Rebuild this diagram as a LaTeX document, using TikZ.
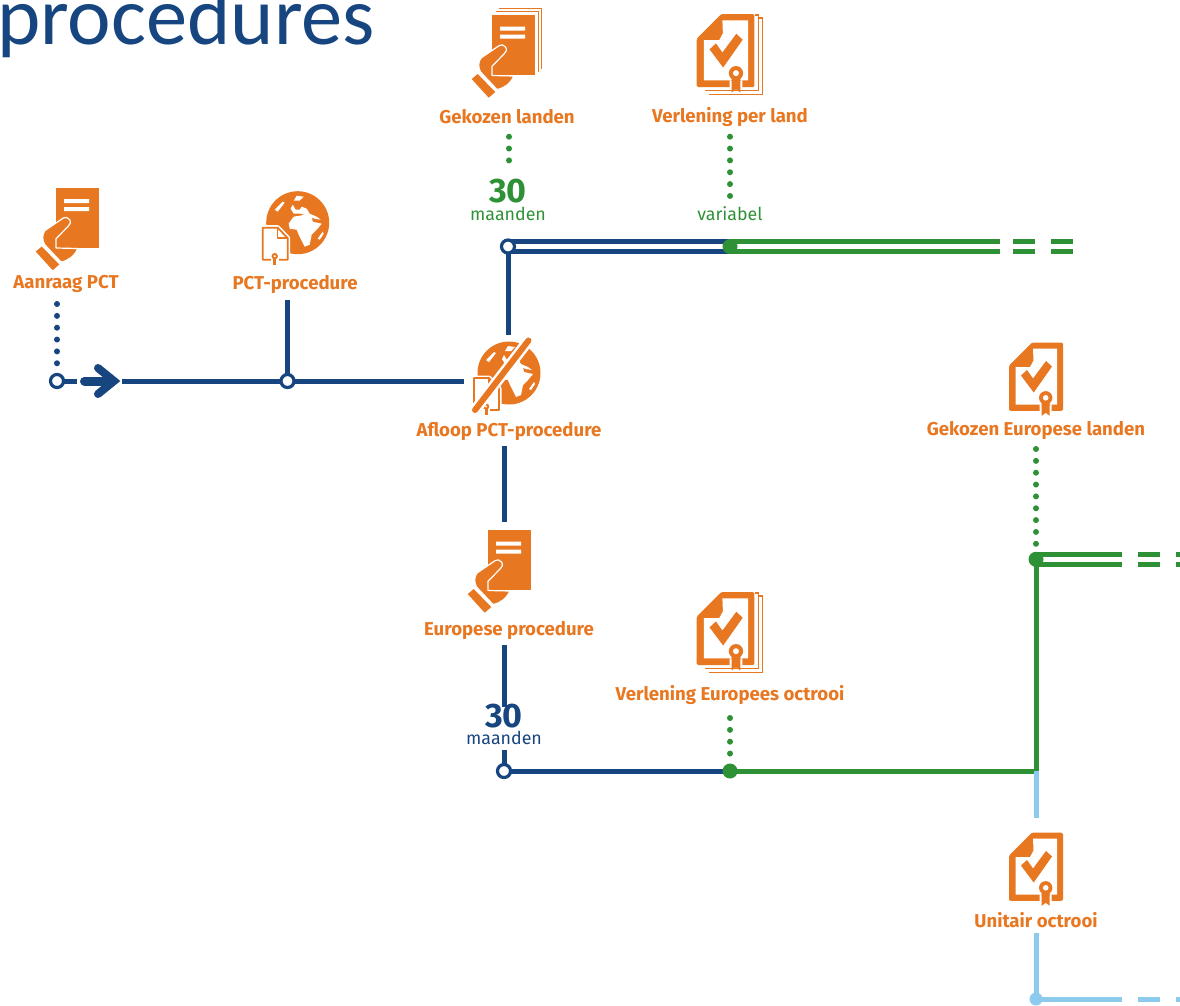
\documentclass[tikz,border=0pt]{standalone}
\usepackage{fontspec}
\setmainfont{Fira Sans}
\newfontfamily\titlefont{Carlito}
\definecolor{oct}{HTML}{E87722}
\definecolor{blu}{HTML}{17457F}
\definecolor{grn}{HTML}{2F9136}
\definecolor{lbl}{HTML}{8DCBEE}
\tikzset{
  lab/.style={text=oct,font=\fontsize{18.6}{20}\selectfont\bfseries,inner sep=0pt,anchor=center},
  num/.style={font=\fontsize{34}{34}\selectfont\bfseries,inner sep=0pt,anchor=center},
  sub/.style={font=\fontsize{17.8}{18}\selectfont,inner sep=0pt,anchor=center},
  ln/.style={line width=5pt},
  dbl/.style={line width=4.8pt,double=white,double distance=5.2pt},
  dots/.style={line width=6pt,line cap=round,dash pattern=on 0pt off 11.85pt},
  ring/.style={circle,draw=blu,fill=white,line width=3.2pt,minimum size=13pt,inner sep=0pt},
  blob/.style={circle,minimum size=15pt,inner sep=0pt},
  handdoc/.pic={
    \fill[oct] (0,0) rectangle (43,60);
    \fill[white] (8,11.5) rectangle (33,15.5) (8,19.5) rectangle (33,23.5);
    \draw[white,fill=oct,line width=1.2pt,line join=round]
      (13.5,32) .. controls (15.5,35) and (14,37) .. (12,39) -- (0,51.3) -- (0,60.5) -- (22,61)
      .. controls (19,68) and (13,73) .. (5,74.5) -- (-11.5,57) .. controls (-14,52) and (-14,47) .. (-11,43)
      -- (7.3,30.5) .. controls (9,29.5) and (12,29.5) .. (13.5,32) -- cycle;
    \fill[oct] (-20.3,64) -- (-14.3,59) -- (3.3,77) -- (-3.3,82.7) -- cycle;
  },
  stackhand/.pic={
    \draw[oct,line width=1.3pt] (4,-3.3) -- (46.5,-3.3) -- (46.5,57);
    \draw[oct,line width=1.3pt] (6.5,-6.3) -- (49.8,-6.3) -- (49.8,54);
    \pic {handdoc};
  },
  certdoc/.pic={
    \fill[oct,rounded corners=1.5pt] (23,0) -- (54,0) -- (54,68.3) -- (0,68.3) -- (0,23) -- cycle;
    \fill[white] (24,6) -- (48,6) -- (48,62) -- (6.7,62) -- (6.7,24.5) -- (21,24.5) -- (24.5,18) -- cycle;
    \fill[oct] (12,33) -- (18,27.5) -- (24,36) -- (37,18.5) -- (43,24) -- (24.7,50) -- cycle;
    \fill[white] (36.7,55.3) circle[radius=8.6] (30.7,60) rectangle (42.7,68.4);
    \fill[oct] (32.7,58) -- (32.7,73.3) -- (36.7,70.3) -- (40.7,73.3) -- (40.7,58) -- cycle;
    \fill[oct] (36.7,55.3) circle[radius=6.7];
    \fill[white] (36.7,55.3) circle[radius=2.8];
  },
  stackcert/.pic={
    \draw[oct,line width=1.2pt] (58,1) -- (61.5,1) -- (61.5,76.5) -- (8,76.5);
    \draw[oct,line width=1.2pt] (62,4) -- (65.5,4) -- (65.5,80.5) -- (12,80.5);
    \pic[scale=1.07] {certdoc};
  },
  globe/.pic={
    \fill[oct] (0,0) circle[radius=31.5];
    \fill[white] (-9,.7) -- (-4,-6) -- (2,-7) -- (7,-8) -- (14,-6) -- (15,-1) -- (24,1) -- (19,7)
      -- (14,12) -- (12,22) -- (7,24) -- (1,12) -- (-1,7) -- (-8,6) -- cycle;
    \fill[white] (-5,-18) -- (-2,-13) -- (2,-13) -- (4,-16) -- (9,-14) -- (12,-9) -- (19,-6) -- (23,-3)
      -- (17,-4) -- (10,-7) -- (3,-9) -- (-4,-9) -- (-7,-14) -- cycle;
    \fill[white] (-1,-27) -- (6,-26) -- (2,-22) -- (-4,-22) -- cycle;
    \fill[white] (-23,-13) -- (-15,-21) -- (-13,-20) -- (-20,-11) -- cycle;
    \fill[white] (20,16) -- (25,9) -- (26,11) -- (22,17) -- cycle;
    \draw[white,line width=5pt,line join=round] (-35,5) -- (-20,5) -- (-10,15.5) -- (-10,37) -- (-35,37) -- cycle;
    \draw[oct,fill=white,line width=1.8pt,line join=round] (-35,5) -- (-20,5) -- (-10,15.5) -- (-10,37) -- (-35,37) -- cycle;
    \draw[oct,line width=1.5pt,line join=round] (-20,5) -- (-20,15.5) -- (-10,15.5);
    \fill[white] (-19,33) rectangle (-27,39);
    \fill[oct] (-24.5,36) rectangle (-21.5,42);
    \fill[oct] (-23,33.5) circle[radius=3.2];
    \fill[white] (-23,33.5) circle[radius=1.2];
  }
}
\begin{document}
\begin{tikzpicture}[x=1pt,y=-1pt]
\useasboundingbox (0,0) rectangle (1180,1005);
% title
\node[text=blu,font=\fontsize{82.5}{84}\selectfont\titlefont,inner sep=0pt,anchor=base west] (title) at (-3,44.5) {procedures};
% icons
\pic at (56,187.5) {handdoc};
\pic at (492,15) {stackhand};
\pic at (488,530) {handdoc};
\pic at (297.7,222.7) {globe};
\pic at (509,373) {globe};
\pic at (696.7,14) {stackcert};
\pic at (696.7,592) {stackcert};
\pic at (1009,342.5) {certdoc};
\pic at (1009,832.5) {certdoc};
\coordinate (sa) at (528.5,340.5);
\coordinate (sb) at (475,410);
\draw[white,line width=11pt] (sa) -- (sb);
\draw[oct,line width=6pt,line cap=round] (sa) -- (sb);
% labels
\node[lab] (aan) at (66,284) {Aanraag PCT};
\node[lab] (pct) at (295,284) {PCT-procedure};
\node[lab] (afl) at (509,431) {Afloop PCT-procedure};
\node[lab] (gek) at (507,117) {Gekozen landen};
\node[lab] (ver) at (730,117) {Verlening per land};
\node[lab] (eur) at (509,630.5) {Europese procedure};
\node[lab] (veo) at (730,695) {Verlening Europees octrooi};
\node[lab] (gel) at (1036,430) {Gekozen Europese landen};
\node[lab] (uni) at (1036,920) {Unitair octrooi};
\node[num,text=grn] (n1) at (508,191) {30};
\node[sub,text=grn] (m1) at (508,213.5) {maanden};
\node[sub,text=grn] (var) at (730,213.5) {variabel};
\node[num,text=blu] (n2) at (504,716) {30};
\node[sub,text=blu] (m2) at (504,738) {maanden};
% junction coordinates
\coordinate (a1) at (508,246.5);
\coordinate (a2) at (730,246.5);
\coordinate (a3) at (1000,246.5);
\coordinate (a4) at (1013,246.5);
\coordinate (a5) at (1035,246.5);
\coordinate (a6) at (1051,246.5);
\coordinate (a7) at (1073,246.5);
\coordinate (v1) at (508,335);
\coordinate (h0) at (57,381);
\coordinate (h1) at (77,381);
\coordinate (h2) at (122,381);
\coordinate (h3) at (287.5,381);
\coordinate (h4) at (464,381);
\coordinate (p1) at (287.5,300);
\coordinate (e1) at (504,446);
\coordinate (e2) at (504,522);
\coordinate (e3) at (504,645);
\coordinate (e4) at (504,707);
\coordinate (e5) at (504,750);
\coordinate (e6) at (504,771);
\coordinate (b1) at (730,771);
\coordinate (b2) at (1036,771);
\coordinate (g1) at (1036,559.3);
\coordinate (g2) at (1122,559.3);
\coordinate (g3) at (1138,559.3);
\coordinate (g4) at (1160,559.3);
\coordinate (g5) at (1176,559.3);
\coordinate (g6) at (1182,559.3);
\coordinate (u1) at (1036,818);
\coordinate (u2) at (1036,933);
\coordinate (u3) at (1036,999);
\coordinate (u4) at (1122,999);
\coordinate (u5) at (1138,999);
\coordinate (u6) at (1160,999);
\coordinate (u7) at (1176,999);
\coordinate (u8) at (1182,999);
% dotted leaders
\draw[blu,dots] (57,304) -- (57,364);
\draw[grn,dots] (509,136.7) -- (509,161);
\draw[grn,dots] (730,136.7) -- (730,197);
\draw[grn,dots] (730,718) -- (730,754);
\draw[grn,dots] (1036,449) -- (1036,544);
% blue lines
\draw[blu,ln] (h0) -- (h1);
\draw[blu,ln] (h2) -- (h4);
\draw[blu,ln] (p1) -- (h3);
\draw[blu,ln] (a1) -- (v1);
\draw[blu,ln] (e1) -- (e2);
\draw[blu,ln] (e3) -- (e4);
\draw[blu,ln] (e5) -- (e6);
\draw[blu,ln] (e6) -- (b1);
\draw[blu,dbl] (a1) -- (a2);
% arrow
\coordinate (ar0) at (84.5,381);
\coordinate (ar1) at (110,381);
\coordinate (ar2) at (98,368);
\coordinate (ar3) at (114,381);
\coordinate (ar4) at (98,394);
\draw[blu,line width=9pt,line cap=round] (ar0) -- (ar1);
\draw[blu,line width=8pt,line cap=round,line join=miter] (ar2) -- (ar3) -- (ar4);
% green lines
\draw[grn,dbl] (a2) -- (a3);
\draw[grn,dbl] (a4) -- (a5);
\draw[grn,dbl] (a6) -- (a7);
\draw[grn,ln] (b1) -- (b2);
\draw[lbl,ln] (b2) -- (u1);
\draw[lbl,ln] (u2) -- (u3);
\draw[grn,ln] (g1) -- (b2);
\draw[grn,dbl] (g1) -- (g2);
\draw[grn,dbl] (g3) -- (g4);
\draw[grn,dbl] (g5) -- (g6);
\draw[lbl,ln] (u3) -- (u4);
\draw[lbl,ln] (u5) -- (u6);
\draw[lbl,ln] (u7) -- (u8);
% junction markers
\node[ring] (c1) at (h0) {};
\node[ring] (c2) at (h3) {};
\node[ring] (c3) at (a1) {};
\node[ring] (c4) at (e6) {};
\node[blob,fill=grn] (d1) at (a2) {};
\node[blob,fill=grn] (d2) at (b1) {};
\node[blob,fill=grn] (d3) at (g1) {};
\node[blob,fill=lbl,minimum size=13pt] (d4) at (u3) {};
\end{tikzpicture}
\end{document}
